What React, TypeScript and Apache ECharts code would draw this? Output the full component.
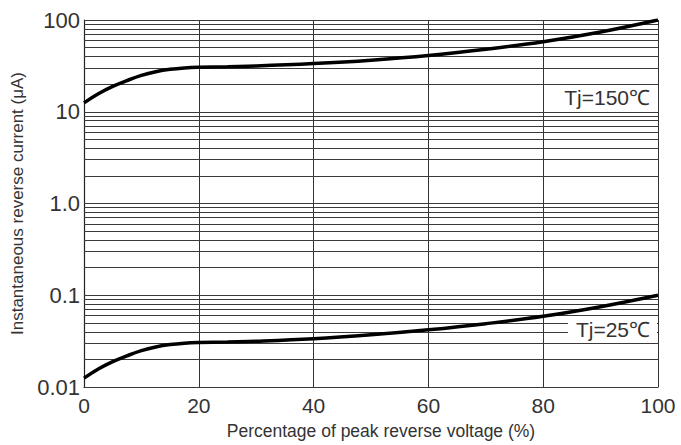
import React, { useEffect, useRef } from "react";
import * as echarts from "echarts";

const xValues = [0, 2.5, 5, 7.5, 10, 12.5, 15, 17.5, 20, 25, 30, 40, 50, 60, 70, 80, 90, 100];
const tj150 = [12.5, 15.7, 18.9, 21.9, 24.9, 27.3, 29, 30, 30.5, 31, 31.5, 33.5, 36.5, 41, 48, 58, 74, 100];
const tj25 = [0.0125, 0.0157, 0.0189, 0.0219, 0.0249, 0.0273, 0.029, 0.03, 0.0305, 0.031, 0.0315, 0.0335, 0.037, 0.042, 0.049, 0.059, 0.075, 0.1];
const yTickValues = [0.01, 0.1, 1, 10, 100];
const yTickLabels = ["0.01", "0.1", "1.0", "10", "100"];
const decades = [0.01, 0.1, 1, 10];
const minorMultipliers = [1, 2, 3, 4, 5, 6, 7, 8, 9];
const seriesLabels = ["Tj=150℃", "Tj=25℃"];

export default function App() {
  const ref = useRef<HTMLDivElement>(null);
  useEffect(() => {
    if (!ref.current) return;
    const chart = echarts.init(ref.current, undefined, { renderer: "svg" });
    const gridValues: number[] = [];
    decades.forEach((d) => minorMultipliers.forEach((m) => gridValues.push(+(d * m).toPrecision(3))));
    gridValues.push(100);
    const font = "Liberation Sans";
    chart.setOption({
      animation: false,
      backgroundColor: "#fff",
      grid: { left: 84, right: 23, top: 20, bottom: 56 },
      xAxis: {
        type: "value",
        min: 0,
        max: 100,
        interval: 20,
        name: "Percentage of peak reverse voltage (%)",
        nameLocation: "middle",
        nameGap: 35,
        nameTextStyle: { fontSize: 17.5, color: "#333", fontFamily: font, padding: [0, 0, 0, 20] },
        axisLine: { show: true, lineStyle: { color: "#222", width: 1.2 } },
        axisTick: { show: false },
        axisLabel: { fontSize: 21, color: "#333", fontFamily: font, margin: 8 },
        splitLine: { show: true, lineStyle: { color: "#333", width: 1 } },
      },
      yAxis: {
        type: "log",
        logBase: 10,
        min: 0.01,
        max: 100,
        name: "Instantaneous reverse current (μA)",
        nameLocation: "middle",
        nameGap: 52,
        nameTextStyle: { fontSize: 17, color: "#333", fontFamily: font },
        axisLine: { show: true, lineStyle: { color: "#222", width: 1.2 } },
        axisTick: { show: false },
        axisLabel: {
          fontSize: 22,
          color: "#333",
          fontFamily: font,
          margin: 4,
          formatter: (v: number) => {
            const i = yTickValues.findIndex((t) => Math.abs(Math.log10(t) - Math.log10(v)) < 1e-6);
            return i >= 0 ? yTickLabels[i] : "";
          },
        },
        splitLine: { show: false },
      },
      series: [
        {
          type: "line",
          data: xValues.map((x, i) => [x, tj150[i]]),
          smooth: 0.4,
          symbol: "none",
          lineStyle: { color: "#000", width: 3.5 },
          z: 5,
          markLine: {
            silent: true,
            symbol: "none",
            label: { show: false },
            lineStyle: { color: "#3a3a3a", width: 1, type: "solid" },
            data: gridValues.map((v) => ({ yAxis: v })),
            z: 1,
          },
        },
        {
          type: "line",
          data: xValues.map((x, i) => [x, tj25[i]]),
          smooth: 0.4,
          symbol: "none",
          lineStyle: { color: "#000", width: 3.5 },
          z: 5,
        },
      ],
      graphic: [
        { type: "rect", left: 556, top: 86, shape: { width: 101, height: 25 }, style: { fill: "#fff" }, z: 10 },
        {
          type: "text",
          right: 31,
          top: 87,
          style: { text: seriesLabels[0], fontSize: 21, fill: "#333", fontFamily: font },
          z: 11,
        },
        { type: "rect", left: 568, top: 318, shape: { width: 89, height: 25 }, style: { fill: "#fff" }, z: 10 },
        {
          type: "text",
          right: 31,
          top: 319,
          style: { text: seriesLabels[1], fontSize: 21, fill: "#333", fontFamily: font },
          z: 11,
        },
      ],
    });
    return () => chart.dispose();
  }, []);
  return <div ref={ref} style={{ width: 681, height: 445, position: "absolute", left: 0, top: 0 }} />;
}
